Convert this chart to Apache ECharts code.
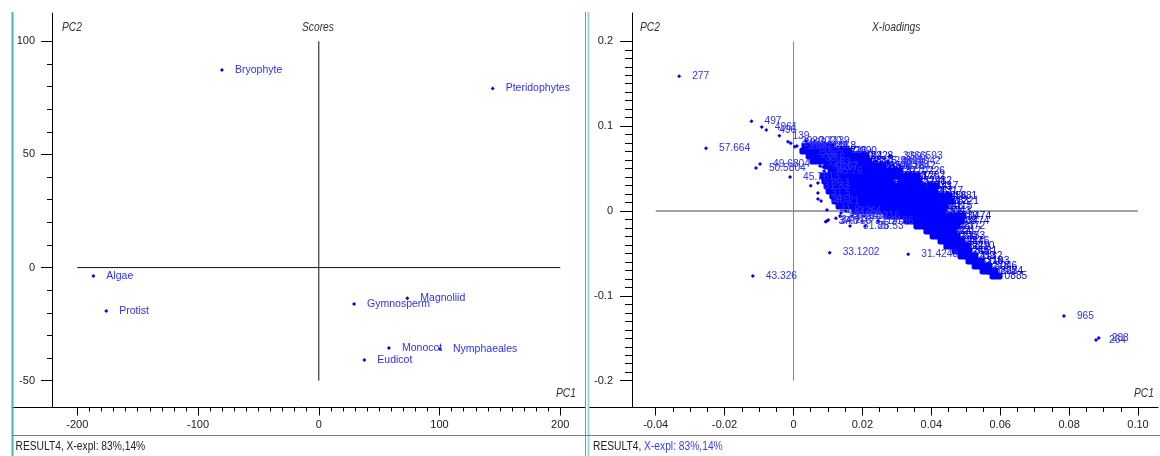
<!DOCTYPE html>
<html><head><meta charset="utf-8">
<script src="https://cdn.jsdelivr.net/npm/echarts@6/dist/echarts.min.js"></script>
<style>html,body{margin:0;padding:0;background:#fff}#c{width:1160px;height:456px}</style>
</head><body><div id="c"></div>
<script>
const FONT = "'Liberation Sans Narrow','Arial Narrow','Liberation Sans',Arial,sans-serif";

// ---------- Scores panel ----------
const scoreNames = ['Bryophyte','Pteridophytes','Algae','Protist','Gymnosperm','Magnoliid','Eudicot','Monocot','Nymphaeales'];
const scorePC1 = [-80.2, 144.0, -186.7, -176.0, 29.2, 73.3, 37.7, 58.1, 100.4];
const scorePC2 = [87.3, 79.1, -3.7, -19.2, -16.1, -13.6, -40.8, -35.5, -36.0];
const scoreXTickLabels = ['-200','-100','0','100','200'];
const scoreYTickLabels = ['-50','0','50','100'];

// ---------- X-loadings panel ----------
const loadXTickLabels = ['-0.04','-0.02','0','0.02','0.04','0.06','0.08','0.10'];
const loadYTickLabels = ['-0.2','-0.1','0','0.1','0.2'];

// isolated / outlying loadings: [PC1, PC2, label]
const loadOutliers = [
  [-0.0332, 0.1587, '277'],
  [-0.0254, 0.0739, '57.664'],
  [-0.0122, 0.1057, '497'],
  [-0.0092, 0.0990, '4961'],
  [-0.0079, 0.0955, '496'],
  [-0.0041, 0.0887, '139'],
  [-0.0016, 0.0817, '2020'],
  [-0.0008, 0.0798, '2039'],
  [-0.0109, 0.0507, '50.5804'],
  [-0.0097, 0.0554, '49.6804'],
  [-0.0010, 0.0401, '45.7613'],
  [-0.0118, -0.0766, '43.326'],
  [0.0105, -0.0491, '33.1202'],
  [0.0333, -0.0510, '31.4248'],
  [0.0785, -0.1237, '965'],
  [0.0878, -0.1520, '264'],
  [0.0886, -0.1497, '283']
];
// loadings on the fringe of the main cloud: [PC1, PC2, label]
const loadFringe = [
  [0.0036, 0.0825, '2020'], [0.0062, 0.0825, '1139'], [0.0010, 0.0766, '2032'],
  [0.0004, 0.0758, '2044'], [0.0033, 0.0695, '1152'], [0.0042, 0.0660, '2067'],
  [0.0054, 0.0625, '38.2'], [0.0062, 0.0577, '1203'], [0.0086, 0.0519, '2117'],
  [0.0280, 0.0648, '3366593'], [0.0285, 0.0640, '3593'], [0.0239, 0.0589, '1298'],
  [0.0274, 0.0589, '3305042'], [0.0274, 0.0566, '3042'], [0.0289, 0.0542, '2318'],
  [0.0077, 0.0530, '41.07'], [0.0280, 0.0530, '3171'], [0.0309, 0.0530, '1842'],
  [0.0089, 0.0471, '45.76'],
  [0.0050, 0.0298, '31.33'], [0.0071, 0.0330, '36.1'], [0.0071, 0.0212, '31.5'],
  [0.0080, 0.0118, '40.21'], [0.0071, 0.0141, '34.9'], [0.0097, 0.0012, '41.8'],
  [0.0152, 0.0000, '2264'], [0.0138, -0.0024, '41.24'],
  [0.0135, -0.0059, '37.14'], [0.0170, -0.0059, '2230'], [0.0205, -0.0059, '1216'],
  [0.0123, -0.0086, '34.19'], [0.0101, -0.0106, '34.2'], [0.0093, -0.0126, '37.6'],
  [0.0097, -0.0118, '34.716'], [0.0199, -0.0118, '3219'], [0.0245, -0.0118, '2186'],
  [0.0164, -0.0177, '31.85'], [0.0208, -0.0177, '28.53']
];
// dense core of the cloud, row by row: [PC2, [[PC1, label], ...]]
const loadCoreRows = [
  [0.0766, [[0.0042,'1166'],[0.0071,'2146'],[0.0100,'39.8']]],
  [0.0707, [[0.0036,'45.2'],[0.0065,'2080'],[0.0094,'1157'],[0.0123,'3226'],[0.0152,'2090']]],
  [0.0648, [[0.0054,'39.64'],[0.0083,'1251'],[0.0112,'2262'],[0.0141,'3009'],[0.0170,'1194'],[0.0199,'2228']]],
  [0.0589, [[0.0065,'1213'],[0.0094,'3126'],[0.0123,'2219'],[0.0152,'1177'],[0.0181,'3088'],[0.0210,'2075']]],
  [0.0530, [[0.0106,'2236'],[0.0135,'1118'],[0.0164,'3047'],[0.0193,'2188'],[0.0222,'1265'],[0.0251,'2206']]],
  [0.0471, [[0.0118,'3290'],[0.0147,'1224'],[0.0176,'2161'],[0.0205,'3384'],[0.0234,'1107'],[0.0263,'2270'],[0.0300,'3710226']]],
  [0.0412, [[0.0094,'1330'],[0.0123,'2245'],[0.0152,'3063'],[0.0181,'1279'],[0.0210,'2197'],[0.0239,'3412'],[0.0268,'1185'],[0.0297,'2318'],[0.0326,'3077'],[0.0350,'1262']]],
  [0.0354, [[0.0100,'36.95'],[0.0129,'2154'],[0.0158,'1302'],[0.0187,'3239'],[0.0216,'2117'],[0.0245,'1246'],[0.0274,'3350'],[0.0320,'2252412'],[0.0355,'1198']]],
  [0.0295, [[0.0106,'1286'],[0.0135,'3021'],[0.0164,'2233'],[0.0193,'1149'],[0.0222,'3267'],[0.0251,'2091'],[0.0280,'1320'],[0.0309,'3194'],[0.0338,'2274'],[0.0367,'1233'],[0.0405,'417']]],
  [0.0236, [[0.0112,'2208'],[0.0141,'1172'],[0.0170,'3398'],[0.0199,'2126'],[0.0228,'1257'],[0.0257,'3035'],[0.0286,'2249'],[0.0315,'1211'],[0.0344,'3142'],[0.0373,'2067'],[0.0402,'1317']]],
  [0.0177, [[0.0123,'1163'],[0.0152,'2291'],[0.0181,'3016'],[0.0210,'1238'],[0.0239,'2173'],[0.0268,'3327'],[0.0297,'1281'],[0.0326,'2213'],[0.0355,'3098'],[0.0384,'1144'],[0.0413,'2256'],[0.0443,'1881']]],
  [0.0118, [[0.0129,'31.52'],[0.0158,'2137'],[0.0187,'1269'],[0.0216,'3251'],[0.0245,'2104'],[0.0274,'1183'],[0.0303,'3306'],[0.0332,'2242'],[0.0361,'1127'],[0.0390,'3059'],[0.0419,'2283'],[0.0448,'1221']]],
  [0.0059, [[0.0141,'40.31'],[0.0170,'3183'],[0.0199,'2221'],[0.0228,'1175'],[0.0257,'3360'],[0.0286,'2158'],[0.0315,'1292'],[0.0344,'3027'],[0.0373,'2199'],[0.0402,'1246'],[0.0431,'3115']]],
  [0.0000, [[0.0187,'1193'],[0.0222,'3372'],[0.0257,'2119'],[0.0292,'1308'],[0.0326,'3208'],[0.0361,'2177'],[0.0396,'1259'],[0.0425,'3043']]],
  [-0.0059, [[0.0280,'3336'],[0.0309,'2145'],[0.0344,'1274'],[0.0379,'3090'],[0.0413,'2268'],[0.0448,'1139'],[0.0483,'0474']]],
  [-0.0118, [[0.0338,'1297'],[0.0373,'3152'],[0.0408,'2235'],[0.0443,'1168'],[0.0478,'3474']]],
  [-0.0177, [[0.0367,'2201'],[0.0402,'1243'],[0.0437,'3067'],[0.0466,'2172']]],
  [-0.0236, [[0.0396,'1289'],[0.0425,'3124'],[0.0454,'2217']]],
  [-0.0295, [[0.0414,'1161'],[0.0443,'3290'],[0.0466,'2153']]],
  [-0.0354, [[0.0437,'1304'],[0.0460,'3037'],[0.0478,'2246']]],
  [-0.0412, [[0.0454,'1188'],[0.0478,'3229'],[0.0495,'2110']]],
  [-0.0471, [[0.0478,'1265'],[0.0501,'3081']]],
  [-0.0530, [[0.0495,'2259'],[0.0518,'1132']]],
  [-0.0589, [[0.0518,'3316'],[0.0536,'2193']]],
  [-0.0648, [[0.0536,'1278'],[0.0559,'3046']]],
  [-0.0707, [[0.0559,'0865'],[0.0576,'2224']]],
  [-0.0766, [[0.0588,'0885']]]
];

// ---------- build data ----------
const scoreData = scoreNames.map((n, i) => [scorePC1[i], scorePC2[i], n]);
const coreData = [];
loadCoreRows.forEach(r => r[1].forEach(p => coreData.push([p[0], r[0], p[1]])));
const looseData = loadFringe.concat(loadOutliers);

const S = {xmin:-200, xmax:200, xint:100, ymin:-50, ymax:100, yint:50};
const L = {xmin:-0.04, xmax:0.10, xint:0.02, ymin:-0.2, ymax:0.2, yint:0.1};

const chart = echarts.init(document.getElementById('c'), null, {renderer:'canvas'});
const BLUE = '#0000ff', LBL = '#2e2eff', TXT = '#222';

function frameX(g){return {gridIndex:g,type:'value',min:0,max:1,axisLine:{show:true,onZero:false,lineStyle:{color:'#000',width:1}},axisTick:{show:false},axisLabel:{show:false},splitLine:{show:false}};}
function frameY(g,off){return {gridIndex:g,type:'value',min:0,max:1,offset:off,axisLine:{show:true,onZero:false,lineStyle:{color:'#000',width:1}},axisTick:{show:false},axisLabel:{show:false},splitLine:{show:false}};}
function tickAxis(g, min, max, interval, off, len, minorSplit, minorLen, margin, labels){
  return {gridIndex:g,type:'value',min:min,max:max,interval:interval,offset:off,
    axisLine:{show:false,onZero:false},
    axisTick:{show:true,length:len,lineStyle:{color:'#000',width:1}},
    minorTick:{show:true,splitNumber:minorSplit,length:minorLen,lineStyle:{color:'#000',width:1}},
    splitLine:{show:false},minorSplitLine:{show:false},
    axisLabel:{margin:margin,color:TXT,fontFamily:FONT,fontSize:11,
      formatter:v=>labels[Math.round((v-min)/interval)]}};
}
function txt(x, y, t, italic){
  return {type:'text',x:x,y:y,scaleX:0.82,
    style:{text:t,font:(italic?'italic ':'')+'12.5px '+FONT,fill:italic?'#333':TXT,verticalAlign:'middle'}};
}

const option = {
  animation:false,
  backgroundColor:'#fff',
  grid:[
    {left:12,top:13,width:573,height:394.5},
    {left:77.3,top:41.3,width:483,height:339.4},
    {left:589,top:13,width:569,height:394.5},
    {left:655.7,top:41.3,width:482.3,height:339.4}
  ],
  xAxis:[
    frameX(0),
    tickAxis(1,S.xmin,S.xmax,S.xint,26.8,8,10,4,12,scoreXTickLabels),
    frameX(2),
    tickAxis(3,L.xmin,L.xmax,L.xint,26.8,8,4,4.5,12,loadXTickLabels)
  ],
  yAxis:[
    frameY(0,-40),
    tickAxis(1,S.ymin,S.ymax,S.yint,25.3,11,5,5,17,scoreYTickLabels),
    frameY(2,-43),
    tickAxis(3,L.ymin,L.ymax,L.yint,23.7,12,10,7,19,loadYTickLabels)
  ],
  graphic:[
    {type:'line',shape:{x1:12.5,y1:12,x2:12.5,y2:456},style:{stroke:'#45b8b4',lineWidth:2},z:100},
    {type:'line',shape:{x1:585.5,y1:12,x2:585.5,y2:456},style:{stroke:'#8a8a8a',lineWidth:1},z:100},
    {type:'line',shape:{x1:588.5,y1:12,x2:588.5,y2:456},style:{stroke:'#9fd8dc',lineWidth:2},z:100},
    {type:'line',shape:{x1:12,y1:435.5,x2:1160,y2:435.5},style:{stroke:'#7a7a7a',lineWidth:1},z:100},
    txt(62,28,'PC2',true),
    txt(302,28,'Scores',true),
    txt(556,394,'PC1',true),
    txt(640,28,'PC2',true),
    txt(872,28,'X-loadings',true),
    txt(1134,394,'PC1',true),
    txt(15.5,447,'RESULT4, X-expl: 83%,14%',false),
    {type:'text',x:593,y:447,scaleX:0.82,style:{text:'{a|RESULT4, }{b|X-expl: 83%,14%}',font:'12.5px '+FONT,verticalAlign:'middle',
      rich:{a:{fill:TXT,font:'12.5px '+FONT},b:{fill:'#3a3aff',font:'12.5px '+FONT}}}}
  ],
  series:[
    {type:'line',xAxisIndex:1,yAxisIndex:1,silent:true,symbol:'none',data:[[S.xmin,0],[S.xmax,0]],lineStyle:{color:'#111',width:1},z:1},
    {type:'line',xAxisIndex:1,yAxisIndex:1,silent:true,symbol:'none',data:[[0,S.ymin],[0,S.ymax]],lineStyle:{color:'#111',width:1},z:1},
    {type:'line',xAxisIndex:3,yAxisIndex:3,silent:true,symbol:'none',data:[[L.xmin,0],[L.xmax,0]],lineStyle:{color:'#444',width:1},z:1},
    {type:'line',xAxisIndex:3,yAxisIndex:3,silent:true,symbol:'none',data:[[0,L.ymin],[0,L.ymax]],lineStyle:{color:'#888',width:1},z:1},
    {type:'scatter',xAxisIndex:1,yAxisIndex:1,data:scoreData,symbol:'diamond',symbolSize:4,
      itemStyle:{color:BLUE,opacity:1},z:3,
      label:{show:true,position:'right',distance:11,formatter:p=>p.data[2],color:LBL,fontFamily:FONT,fontSize:10.5}},
    {type:'scatter',xAxisIndex:3,yAxisIndex:3,data:coreData,symbol:'roundRect',symbolSize:[13,7],
      itemStyle:{color:BLUE,opacity:1},z:3,
      label:{show:true,position:'right',distance:2,formatter:p=>p.data[2],color:BLUE,fontFamily:FONT,fontSize:10.2}},
    {type:'scatter',xAxisIndex:3,yAxisIndex:3,data:looseData,symbol:'diamond',symbolSize:4,
      itemStyle:{color:BLUE,opacity:1},z:3,
      label:{show:true,position:'right',distance:11,formatter:p=>p.data[2],color:LBL,fontFamily:FONT,fontSize:10.2}}
  ]
};
chart.setOption(option);
</script></body></html>
